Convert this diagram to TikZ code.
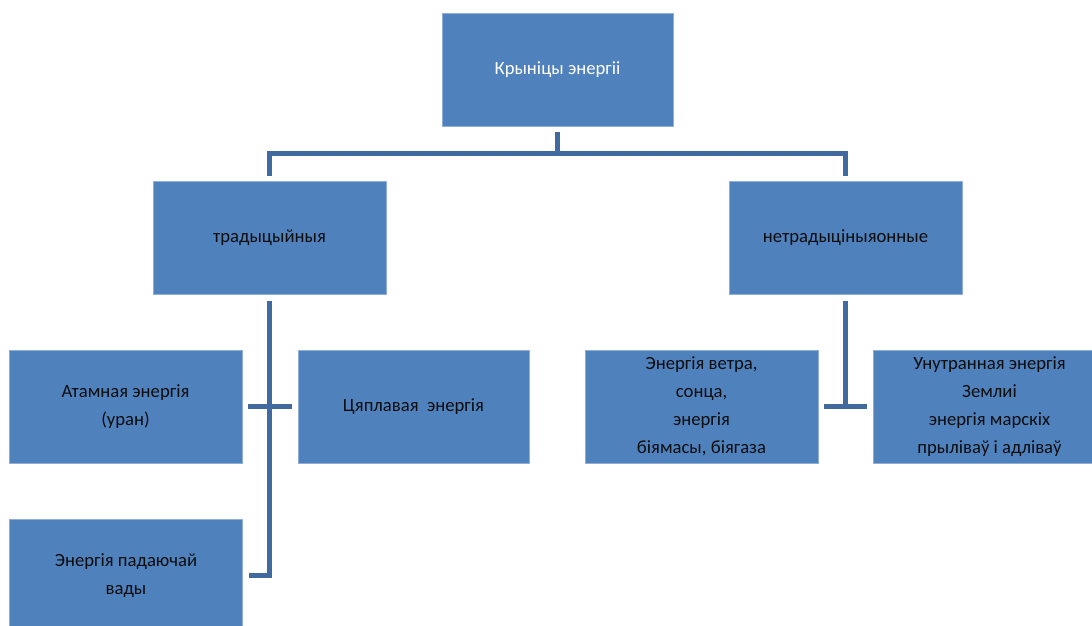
\documentclass[tikz,border=0pt]{standalone}
\usepackage{fontspec}
\setmainfont{Carlito}
\definecolor{boxfill}{HTML}{4F81BD}
\definecolor{boxedge}{HTML}{8FAEDA}
\definecolor{connblue}{HTML}{416A9E}
\begin{document}
\begin{tikzpicture}[x=0.75pt,y=-0.75pt,
  blk/.style={rectangle,fill=boxfill,draw=boxedge,line width=0.6pt,inner sep=0pt,outer sep=0pt,
    minimum width=174.75pt,minimum height=84.75pt,align=center,
    font=\fontsize{14}{21}\selectfont,text=black!95},
  conn/.style={draw=connblue,line width=3.75pt}]
\useasboundingbox (0,0) rectangle (1092,625);
\node[blk,minimum width=173.25pt,text=white] (top) at (557.5,69.5) {Крыніцы энергіі};
\node[blk] (trad) at (269.5,238) {традыцыйныя};
\node[blk] (nontrad) at (845.5,238) {нетрадыцiныяонные};
\node[blk] (atom) at (125.5,406.5) {Атамная энергія\\(уран)};
\node[blk,minimum width=173.25pt] (heat) at (413.5,406.5) {Цяплавая\ \ энергія};
\node[blk] (water) at (126,575.5) {Энергія падаючай\\вады};
\node[blk] (wind) at (701.5,406.5) {Энергія ветра,\\сонца,\\энергія\\біямасы, біягаза};
\node[blk] (inner) at (989.5,406.5) {Унутранная энергія\\Землиі\\энергія марскіх\\прыліваў і адліваў};
\coordinate (bus) at (557.5,153);
\draw[conn] ([yshift=-4.5pt]top.south) -- (top.south |- bus);
\draw[conn] ([yshift=4.5pt]trad.north) |- (bus) -| ([yshift=4.5pt]nontrad.north);
\draw[conn] ([yshift=-4.5pt]trad.south) |- ([xshift=4.5pt]water.east);
\draw[conn] ([xshift=4.5pt]atom.east) -- ([xshift=-4.5pt]heat.west);
\draw[conn] ([yshift=-4.5pt]nontrad.south) -- (nontrad.south |- wind.east);
\draw[conn] ([xshift=4.5pt]wind.east) -- ([xshift=-4.5pt]inner.west);
\end{tikzpicture}
\end{document}
